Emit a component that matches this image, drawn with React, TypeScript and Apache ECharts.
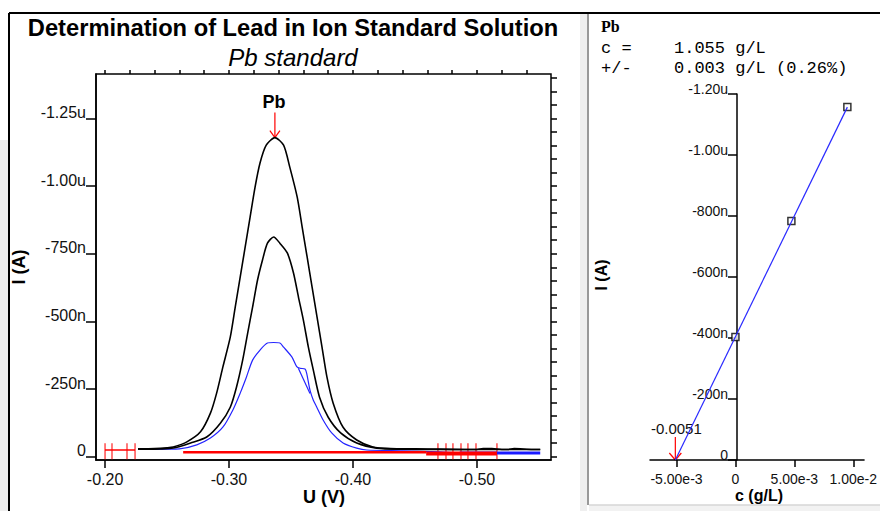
import React, { useEffect, useRef } from "react";
import * as echarts from "echarts";

// ---------- Left panel: voltammograms (U in V, current magnitude in nA) ----------
const highU = [-0.2266, -0.24, -0.25, -0.255, -0.266, -0.277, -0.285, -0.29, -0.295, -0.301, -0.305, -0.309, -0.313, -0.317, -0.321, -0.325, -0.33, -0.337, -0.344, -0.349, -0.355, -0.359, -0.363, -0.367, -0.371, -0.375, -0.379, -0.384, -0.392, -0.403, -0.416, -0.43, -0.45, -0.47, -0.49, -0.5, -0.505, -0.512, -0.52, -0.525, -0.53, -0.545, -0.551];
const highI = [29, 30, 33, 36, 55, 92, 161, 235, 331, 442, 553, 664, 774, 885, 996, 1085, 1151, 1179, 1151, 1070, 959, 848, 738, 627, 516, 405, 294, 198, 109, 62, 36, 30, 29, 28, 27, 27, 30, 30, 27, 27, 30, 27, 27];

const midU = [-0.2266, -0.245, -0.255, -0.269, -0.282, -0.293, -0.301, -0.306, -0.311, -0.315, -0.319, -0.323, -0.327, -0.331, -0.336, -0.341, -0.347, -0.352, -0.356, -0.36, -0.364, -0.368, -0.373, -0.38, -0.39, -0.403, -0.419, -0.44, -0.47, -0.5, -0.53, -0.551];
const midI = [28, 29, 32, 51, 73, 124, 183, 257, 357, 456, 553, 653, 727, 789, 812, 789, 753, 679, 590, 504, 405, 320, 220, 146, 88, 51, 32, 28, 27, 27, 27, 27];

const blueU = [-0.2266, -0.25, -0.26, -0.274, -0.285, -0.295, -0.303, -0.309, -0.314, -0.319, -0.325, -0.331, -0.336, -0.341, -0.344, -0.3508, -0.3546, -0.3573, -0.3613, -0.3626, -0.3653, -0.368, -0.3707, -0.376, -0.3828, -0.392, -0.403, -0.411, -0.44, -0.47, -0.486];
const blueI = [27, 28, 29, 44, 69, 109, 172, 235, 294, 357, 394, 420, 422, 420, 405, 368, 333, 327, 324, 309, 246, 209, 184, 135, 88, 51, 32, 25, 22, 18, 14];
const blueLoopU = [-0.3559, -0.3653];
const blueLoopI = [327, 234];
const blueTailU = [-0.486, -0.551];
const blueTailI = [14, 14];

const redBase1U = [-0.2, -0.2242];
const redBase1I = [25, 25];
const redBase2U = [-0.263, -0.459];
const redBase2I = [17, 17];
const redBase3U = [-0.459, -0.5161];
const redBase3I = [12, 12];
const redMarkU = [-0.2, -0.2056, -0.2177, -0.2242, -0.4685, -0.475, -0.4806, -0.4871, -0.4927, -0.4992, -0.5161];
const redMarkI = [20, 20, 20, 20, 20, 20, 20, 20, 20, 20, 20];

const leftXMajor = [-0.2, -0.3, -0.4, -0.5];
const leftXLabels = ["-0.20", "-0.30", "-0.40", "-0.50"];
const leftXMinor = [-0.2, -0.22, -0.24, -0.26, -0.28, -0.3, -0.32, -0.34, -0.36, -0.38, -0.4, -0.42, -0.44, -0.46, -0.48, -0.5, -0.52, -0.54];
const leftYMajor = [0, 250, 500, 750, 1000, 1250];
const leftYLabels = ["0", "-250n", "-500n", "-750n", "-1.00u", "-1.25u"];
const leftYMinor = [0, 50, 100, 150, 200, 250, 300, 350, 400, 450, 500, 550, 600, 650, 700, 750, 800, 850, 900, 950, 1000, 1050, 1100, 1150, 1200, 1250, 1300, 1350, 1400];

// ---------- Right panel: standard addition calibration ----------
const calConc = [0, 0.00475, 0.0095];
const calCurrent = [403, 784, 1157];
const fitConc = [-0.0051, 0.0095];
const fitCurrent = [0, 1157];
const rightXTicks = [-0.005, 0, 0.005, 0.01];
const rightXLabels = ["-5.00e-3", "0", "5.00e-3", "1.00e-2"];
const rightYTicks = [0, 200, 400, 600, 800, 1000, 1200];
const rightYLabels = ["0", "-200n", "-400n", "-600n", "-800n", "-1.00u", "-1.20u"];

const FONT = "'Liberation Sans', Arial, Helvetica, sans-serif";
const MONO = "'Liberation Mono', 'Courier New', monospace";
const SERIF = "'Liberation Serif', 'Times New Roman', serif";

function pairs(u: number[], v: number[]) {
  return u.map((x, k) => [x, v[k]]);
}
function labeler(values: number[], labels: string[]) {
  return (v: number) => {
    const k = values.findIndex((t) => Math.abs(t - v) < 1e-7 * Math.max(1, Math.abs(t)));
    return k >= 0 ? labels[k] : "";
  };
}

const L_XMIN = -0.5597;
const L_XMAX = -0.1927;
const L_YMIN = -12;
const L_YMAX = 1414;
const R_XMIN = -0.00725;
const R_XMAX = 0.010917;

export default function App() {
  const ref = useRef<HTMLDivElement>(null);
  useEffect(() => {
    if (!ref.current) return;
    const chart = echarts.init(ref.current, undefined, { renderer: "svg" });
    const black = { color: "#000", width: 1.5 };
    const rightGridLeft = 650;
    const rightGridWidth = 218;
    const yAxisShift = ((0 - R_XMIN) / (R_XMAX - R_XMIN)) * rightGridWidth;
    const curve = (name: string, u: number[], i: number[], color: string, width: number, smooth: number | boolean = false) => ({
      type: "line", name, xAxisIndex: 0, yAxisIndex: 0, data: pairs(u, i), showSymbol: false, smooth,
      lineStyle: { color, width }, silent: true,
    });
    const option: any = {
      animation: false,
      backgroundColor: "#ffffff",
      textStyle: { fontFamily: FONT },
      grid: [
        { left: 96, top: 74, width: 455, height: 386, show: true, borderColor: "#000", borderWidth: 1.5, backgroundColor: "transparent" },
        { left: rightGridLeft, top: 94, width: rightGridWidth, height: 366, show: false },
      ],
      xAxis: [
        {
          type: "value", gridIndex: 0, inverse: true, min: L_XMIN, max: L_XMAX,
          splitLine: { show: false },
          axisLine: { show: true, onZero: false, lineStyle: black },
          axisTick: { show: true, customValues: leftXMajor, length: 8, lineStyle: black },
          axisLabel: { show: true, customValues: leftXMajor, formatter: labeler(leftXMajor, leftXLabels), margin: 11, fontSize: 16, color: "#111", fontFamily: FONT },
        },
        {
          type: "value", gridIndex: 0, inverse: true, min: L_XMIN, max: L_XMAX,
          splitLine: { show: false },
          axisLine: { show: false, onZero: false },
          axisTick: { show: true, customValues: leftXMinor, length: 4, lineStyle: black },
          axisLabel: { show: false },
        },
        {
          type: "value", gridIndex: 1, min: R_XMIN, max: R_XMAX,
          splitLine: { show: false },
          axisLine: { show: true, onZero: false, lineStyle: black },
          axisTick: { show: true, customValues: rightXTicks, length: 7, lineStyle: black },
          axisLabel: { show: true, customValues: rightXTicks, formatter: labeler(rightXTicks, rightXLabels), margin: 12, fontSize: 14, color: "#111", fontFamily: FONT },
        },
      ],
      yAxis: [
        {
          type: "value", gridIndex: 0, min: L_YMIN, max: L_YMAX,
          splitLine: { show: false },
          axisLine: { show: true, onZero: false, lineStyle: black },
          axisTick: { show: true, customValues: leftYMajor, length: 10, lineStyle: black },
          axisLabel: { show: true, customValues: leftYMajor, formatter: labeler(leftYMajor, leftYLabels), margin: 10, fontSize: 16, lineHeight: 12, verticalAlign: "bottom", color: "#111", fontFamily: FONT },
        },
        {
          type: "value", gridIndex: 0, min: L_YMIN, max: L_YMAX,
          splitLine: { show: false },
          axisLine: { show: false, onZero: false },
          axisTick: { show: true, customValues: leftYMinor, length: 6, lineStyle: black },
          axisLabel: { show: false },
        },
        {
          type: "value", gridIndex: 1, min: 0, max: 1200, interval: 200,
          offset: -yAxisShift,
          splitLine: { show: false },
          axisLine: { show: true, onZero: false, lineStyle: black },
          axisTick: { show: true, length: 9, lineStyle: black },
          axisLabel: { show: true, formatter: labeler(rightYTicks, rightYLabels), margin: 9, fontSize: 14, lineHeight: 10, verticalAlign: "bottom", color: "#111", fontFamily: FONT },
        },
      ],
      series: [
        curve("blueTail", blueTailU, blueTailI, "#1a1aff", 3),
        curve("blue", blueU, blueI, "#2424ff", 1.2, 0.25),
        curve("blueLoop", blueLoopU, blueLoopI, "#2424ff", 1.2),
        curve("mid", midU, midI, "#000", 1.6, 0.25),
        curve("high", highU, highI, "#000", 1.6, 0.25),
        curve("red1", redBase1U, redBase1I, "#ff0000", 1.5),
        curve("red2", redBase2U, redBase2I, "#ff0000", 2.5),
        curve("red3", redBase3U, redBase3I, "#ff0000", 4),
        { type: "scatter", name: "redMarks", xAxisIndex: 0, yAxisIndex: 0, data: pairs(redMarkU, redMarkI), symbol: "rect", symbolSize: [1.5, 16], itemStyle: { color: "#ff2020" }, silent: true },
        { type: "line", name: "fit", xAxisIndex: 2, yAxisIndex: 2, data: pairs(fitConc, fitCurrent), showSymbol: false, lineStyle: { color: "#2a2aff", width: 1.2 }, silent: true },
        { type: "scatter", name: "standards", xAxisIndex: 2, yAxisIndex: 2, data: pairs(calConc, calCurrent), symbol: "rect", symbolSize: 7, itemStyle: { color: "#fff", borderColor: "#000", borderWidth: 1.5 }, silent: true },
      ],
    };
    chart.setOption(option);

    let pk = 0;
    highI.forEach((v, k) => { if (v > highI[pk]) pk = k; });
    const p = chart.convertToPixel({ seriesIndex: 4 }, [highU[pk], highI[pk]]) as number[];
    const q = chart.convertToPixel({ seriesIndex: 9 }, [fitConc[0], fitCurrent[0]]) as number[];
    const red = { stroke: "#ff0000", lineWidth: 1.2 };
    const txt = (x: number, y: number, text: string, font: string, align = "center", rotation = 0, fill = "#000") => ({
      type: "text", x, y, rotation,
      style: { text, font, fill, align, verticalAlign: "middle", textAlign: align, textVerticalAlign: "middle" },
      silent: true,
    });
    const ln = (x1: number, y1: number, x2: number, y2: number, style: any) => ({ type: "line", shape: { x1, y1, x2, y2 }, style, silent: true });

    chart.setOption({
      graphic: [
        { type: "rect", shape: { x: 0, y: 140, width: 8, height: 371 }, style: { fill: "#eeeeee" }, silent: true },
        { type: "rect", shape: { x: 580, y: 14, width: 7, height: 497 }, style: { fill: "#efefef" }, silent: true },
        { type: "rect", shape: { x: 589, y: 505, width: 291, height: 6 }, style: { fill: "#f2f2f2" }, silent: true },
        ln(589, 505, 880, 505, { stroke: "#d6d6d6", lineWidth: 1.5 }),
        ln(588, 14, 588, 505, { stroke: "#777", lineWidth: 1.5 }),
        ln(9, 13, 880, 13, { stroke: "#000", lineWidth: 2 }),
        ln(9, 13, 9, 511, { stroke: "#000", lineWidth: 2 }),
        txt(293, 28, "Determination of Lead in Ion Standard Solution", `bold 23.7px ${FONT}`),
        txt(293, 57, "Pb standard", `italic 24px ${FONT}`),
        txt(19, 267, "I (A)", `bold 18px ${FONT}`, "center", Math.PI / 2),
        txt(324, 497, "U (V)", `bold 18px ${FONT}`),
        txt(p[0] - 1, p[1] - 36, "Pb", `bold 18px ${FONT}`),
        ln(p[0], p[1] - 25, p[0], p[1], red),
        ln(p[0] - 5, p[1] - 7, p[0], p[1], red),
        ln(p[0] + 5, p[1] - 7, p[0], p[1], red),
        txt(601, 26, "Pb", `bold 16px ${SERIF}`, "left"),
        txt(601, 48, "c =", `17px ${MONO}`, "left"),
        txt(674, 48, "1.055 g/L", `17px ${MONO}`, "left"),
        txt(601, 68, "+/-", `17px ${MONO}`, "left"),
        txt(674, 68, "0.003 g/L (0.26%)", `17px ${MONO}`, "left"),
        txt(601, 275, "I (A)", `bold 16px ${FONT}`, "center", Math.PI / 2),
        txt(759, 495, "c (g/L)", `bold 16px ${FONT}`),
        txt(q[0] + 1, q[1] - 32, "-0.0051", `15px ${FONT}`, "center", 0, "#111"),
        ln(q[0], q[1] - 23, q[0], q[1], red),
        ln(q[0] - 6, q[1] - 7, q[0], q[1], red),
        ln(q[0] + 6, q[1] - 7, q[0], q[1], red),
      ],
    });
    return () => chart.dispose();
  }, []);
  return <div ref={ref} style={{ position: "absolute", left: 0, top: 0, width: 880, height: 511 }} />;
}
